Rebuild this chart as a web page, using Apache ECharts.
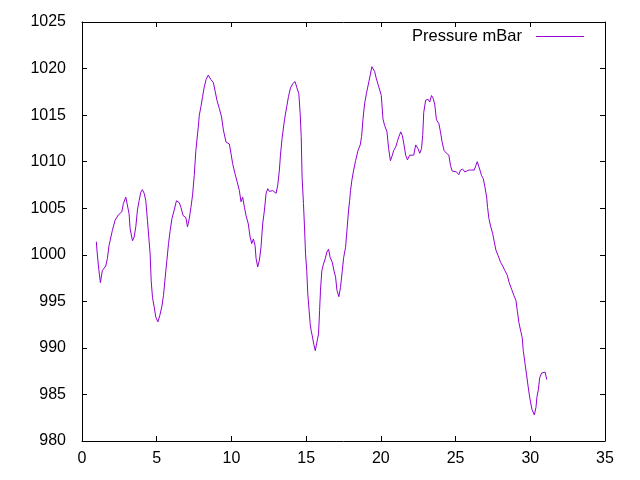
<!DOCTYPE html>
<html>
<head>
<meta charset="utf-8">
<script src="https://cdn.jsdelivr.net/npm/echarts@6/dist/echarts.min.js"></script>
<style>html,body{margin:0;padding:0;background:#fff}#c{width:640px;height:480px}</style>
</head>
<body>
<div id="c"></div>
<script>
const seriesName = 'Pressure mBar';
const days = [0.96,1.00,1.10,1.23,1.36,1.59,1.70,1.81,2.03,2.21,2.44,2.66,2.77,2.93,3.00,3.15,3.22,3.38,3.49,3.60,3.71,3.82,3.93,4.04,4.16,4.27,4.38,4.49,4.56,4.63,4.72,4.83,4.94,5.08,5.21,5.34,5.45,5.57,5.68,5.79,5.90,6.02,6.17,6.32,6.51,6.62,6.77,6.95,7.06,7.18,7.29,7.40,7.51,7.62,7.78,7.85,7.96,8.07,8.18,8.30,8.45,8.63,8.79,8.92,9.03,9.19,9.34,9.46,9.64,9.86,9.97,10.08,10.24,10.42,10.53,10.64,10.75,10.87,10.98,11.13,11.25,11.36,11.47,11.58,11.65,11.76,11.87,11.98,12.09,12.21,12.32,12.43,12.54,12.76,12.99,13.10,13.21,13.28,13.39,13.55,13.70,13.82,13.95,14.11,14.26,14.37,14.51,14.60,14.67,14.73,14.82,14.89,14.96,15.04,15.11,15.18,15.27,15.34,15.41,15.51,15.61,15.72,15.83,15.90,15.96,16.05,16.16,16.28,16.39,16.50,16.61,16.75,16.86,16.97,17.06,17.19,17.30,17.42,17.51,17.64,17.73,17.84,17.91,17.97,18.06,18.18,18.31,18.47,18.62,18.71,18.80,18.91,19.03,19.20,19.40,19.58,19.70,19.87,20.03,20.14,20.25,20.41,20.52,20.64,20.77,20.86,21.00,21.11,21.21,21.33,21.44,21.55,21.66,21.78,21.93,22.05,22.20,22.33,22.49,22.60,22.72,22.80,22.87,23.00,23.16,23.27,23.39,23.50,23.61,23.72,23.88,23.99,24.10,24.23,24.39,24.55,24.66,24.77,24.90,25.06,25.22,25.33,25.47,25.62,25.73,25.89,26.07,26.14,26.25,26.36,26.45,26.55,26.63,26.74,26.85,26.96,27.08,27.14,27.23,27.34,27.48,27.59,27.70,27.85,28.01,28.15,28.30,28.46,28.59,28.75,28.91,29.04,29.13,29.24,29.36,29.46,29.53,29.65,29.76,29.87,29.98,30.11,30.27,30.38,30.45,30.54,30.63,30.76,30.88,30.99,31.10];
const pressure = [1001.4,1000.5,998.8,997.0,998.3,998.8,999.6,1001.0,1002.6,1003.7,1004.3,1004.6,1005.5,1006.2,1006.0,1004.4,1002.8,1001.5,1001.9,1003.0,1004.8,1005.8,1006.7,1007.0,1006.6,1005.8,1003.7,1001.5,1000.1,997.2,995.4,994.4,993.3,992.8,993.5,994.4,995.6,997.6,999.4,1001.2,1002.6,1003.9,1004.8,1005.8,1005.6,1005.1,1004.2,1004.0,1003.0,1003.9,1005.1,1006.4,1008.5,1011.2,1013.7,1015.0,1015.9,1017.0,1018.0,1018.8,1019.3,1018.8,1018.5,1017.5,1016.6,1015.7,1014.8,1013.4,1012.1,1011.9,1010.9,1009.8,1008.7,1007.6,1006.9,1005.7,1006.2,1005.1,1004.2,1003.3,1001.9,1001.2,1001.7,1001.0,999.6,998.7,999.4,1000.8,1003.3,1004.8,1006.6,1007.1,1006.8,1006.9,1006.6,1007.5,1009.1,1010.7,1012.5,1014.5,1015.9,1017.0,1017.9,1018.4,1018.6,1018.0,1017.3,1015.2,1012.7,1008.3,1005.5,1003.0,1000.1,998.3,995.8,994.4,992.6,991.8,991.3,990.4,989.7,989.7,991.5,994.0,996.2,998.3,999.0,999.6,1000.3,1000.6,999.7,999.2,998.3,997.6,996.2,995.5,996.5,998.3,999.7,1000.8,1002.6,1004.8,1005.8,1006.9,1008.0,1009.1,1010.1,1011.2,1011.8,1012.7,1014.5,1016.2,1017.3,1018.6,1020.2,1019.7,1018.9,1018.0,1017.1,1014.6,1013.9,1013.2,1011.4,1010.1,1010.7,1011.2,1011.6,1012.2,1012.7,1013.2,1012.8,1011.8,1010.7,1010.2,1010.7,1010.9,1010.7,1011.8,1011.4,1010.9,1011.4,1012.8,1015.3,1016.6,1016.7,1016.4,1017.1,1016.8,1016.1,1014.5,1014.1,1013.2,1012.1,1011.2,1010.9,1010.7,1009.6,1009.0,1009.1,1008.9,1008.6,1009.1,1009.2,1008.9,1008.7,1009.1,1009.1,1009.3,1009.1,1009.6,1010.0,1009.9,1009.1,1008.5,1008.2,1007.3,1006.2,1005.1,1003.9,1003.1,1002.3,1001.4,1000.5,999.9,999.2,998.8,998.3,997.8,997.0,996.3,995.6,995.1,994.0,992.7,991.8,991.1,989.7,988.3,987.0,985.7,984.5,983.4,982.8,983.6,984.8,985.5,986.8,987.3,987.5,987.4,986.6];
const xTicks = {min: 0, max: 35, interval: 5};
const yTicks = {min: 980, max: 1025, interval: 5};

const font = 'Liberation Sans';
const chart = echarts.init(document.getElementById('c'), null, {renderer: 'canvas'});
const axisCommon = {
  type: 'value',
  axisLine: {show: true, onZero: false, lineStyle: {color: '#000', width: 1}},
  axisTick: {show: true, inside: true, length: 5, lineStyle: {color: '#000'}},
  splitLine: {show: false}
};
const plain = v => String(v);
chart.setOption({
  animation: false,
  backgroundColor: '#fff',
  grid: {left: 82, right: 35, top: 22, bottom: 39, containLabel: false},
  legend: {
    show: true,
    data: [seriesName],
    right: 56, top: 28, padding: 0,
    align: 'right',
    icon: 'rect',
    itemWidth: 48, itemHeight: 1,
    textStyle: {fontFamily: font, fontSize: 16.5, color: '#000', padding: [0, 9, 0, 0]}
  },
  xAxis: [
    Object.assign({}, axisCommon, {position: 'bottom', min: xTicks.min, max: xTicks.max, interval: xTicks.interval,
      axisLabel: {show: true, margin: 10, color: '#000', fontFamily: font, fontSize: 16, formatter: plain}}),
    Object.assign({}, axisCommon, {position: 'top', min: xTicks.min, max: xTicks.max, interval: xTicks.interval,
      axisLabel: {show: false}})
  ],
  yAxis: [
    Object.assign({}, axisCommon, {position: 'left', min: yTicks.min, max: yTicks.max, interval: yTicks.interval,
      axisLabel: {show: true, margin: 16, color: '#000', fontFamily: font, fontSize: 16, formatter: plain}}),
    Object.assign({}, axisCommon, {position: 'right', min: yTicks.min, max: yTicks.max, interval: yTicks.interval,
      axisLabel: {show: false}})
  ],
  series: [{
    name: seriesName,
    type: 'line',
    xAxisIndex: 0, yAxisIndex: 0,
    symbol: 'none',
    lineStyle: {color: '#9400D3', width: 1},
    itemStyle: {color: '#9400D3'},
    data: days.map((d, i) => [d, pressure[i]])
  }]
});
</script>
</body>
</html>
